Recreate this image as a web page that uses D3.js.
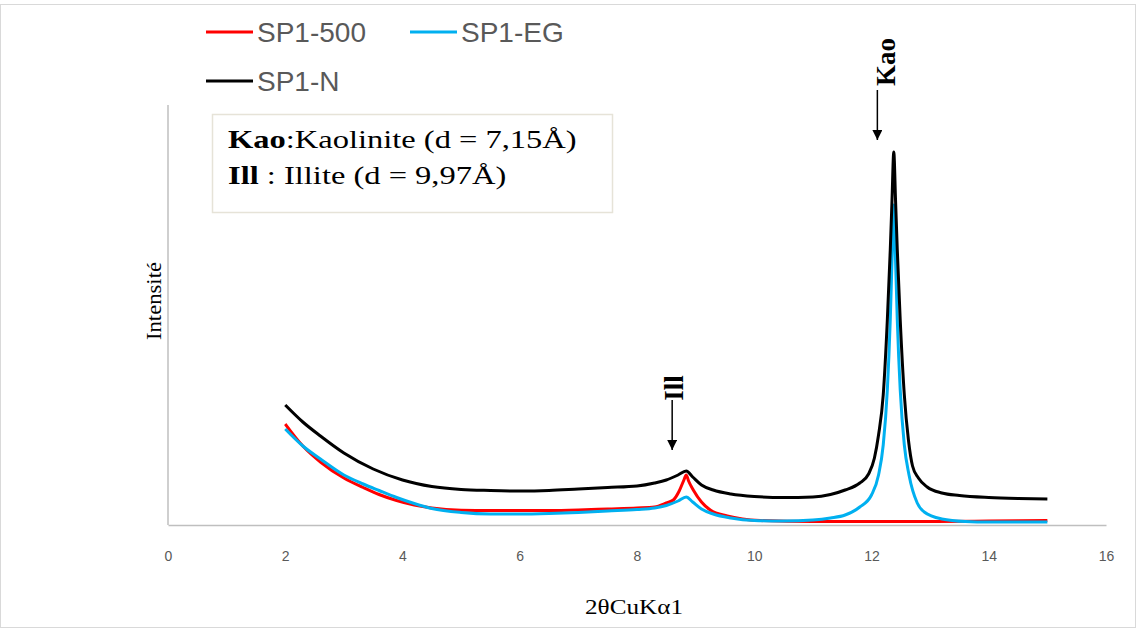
<!DOCTYPE html>
<html>
<head>
<meta charset="utf-8">
<script src="https://cdn.jsdelivr.net/npm/d3@7"></script>
<style>
  body { margin: 0; background: white; }
</style>
</head>
<body>
<div id="container"></div>
<script>
// XRD patterns of SP1 (natural, glycolated, heated to 500 C)

const width = 1138;
const height = 629;

// values, x = 2theta, y = intensity (arbitrary units)
const xTicks = [0, 2, 4, 6, 8, 10, 12, 14, 16];

const sp1_500 = [
  [2.0, 101], [2.3, 79], [2.6, 63], [3.0, 47], [3.33, 37.5], [3.6, 30.5], [3.9, 24.5],
  [4.2, 20], [4.5, 17], [5.0, 14.8], [5.5, 14.5], [6.0, 14.5], [6.5, 14.5], [7.0, 15],
  [7.5, 16], [8.0, 17], [8.3, 18], [8.5, 22], [8.62, 25], [8.72, 34], [8.8, 45],
  [8.84, 50], [8.88, 44], [8.96, 35], [9.1, 23], [9.25, 15], [9.54, 9], [9.8, 6],
  [10.1, 4.5], [11.0, 3.5], [12.0, 3.5], [13.0, 3.5], [14.0, 4], [15.0, 4.5]
];

const sp1_eg = [
  [2.0, 96], [2.3, 79], [2.6, 66], [3.0, 50], [3.33, 41], [3.6, 34.5], [3.9, 27.5],
  [4.2, 21.5], [4.5, 16.5], [5.0, 12.5], [5.5, 11], [6.0, 11], [6.5, 11.5], [7.0, 12.5],
  [7.5, 14], [8.0, 15.5], [8.3, 17], [8.5, 19.5], [8.7, 24], [8.84, 28], [8.95, 23],
  [9.1, 16], [9.3, 11], [9.6, 7], [10.0, 4.5], [10.5, 4], [11.0, 5], [11.3, 7],
  [11.55, 10], [11.8, 18], [12.0, 30], [12.12, 50], [12.2, 80], [12.27, 135],
  [12.32, 205], [12.35, 265], [12.38, 320], [12.41, 265], [12.44, 205], [12.49, 135],
  [12.56, 80], [12.64, 50], [12.78, 22], [12.9, 13], [13.2, 6], [13.6, 3.5],
  [14.0, 3], [15.0, 3]
];

const sp1_n = [
  [2.0, 120], [2.3, 103], [2.6, 89], [3.0, 72], [3.5, 56], [4.0, 45], [4.5, 38.5],
  [5.0, 35.5], [5.5, 34.5], [6.0, 34], [6.5, 34.5], [7.0, 36], [7.5, 37.5], [8.0, 39],
  [8.3, 42], [8.5, 45], [8.7, 50], [8.84, 54], [8.95, 48], [9.1, 40], [9.3, 35],
  [9.6, 31], [10.0, 28.5], [10.5, 27.5], [11.0, 28], [11.3, 30.5], [11.55, 35],
  [11.8, 42], [11.95, 51], [12.05, 67], [12.12, 90], [12.2, 130], [12.27, 205],
  [12.32, 275], [12.35, 325], [12.38, 373], [12.41, 325], [12.44, 275], [12.49, 205],
  [12.56, 130], [12.63, 85], [12.7, 59], [12.8, 47], [12.95, 38], [13.2, 32],
  [13.5, 29.5], [14.0, 27.5], [14.5, 26.5], [15.0, 26]
];

const seriesNames = ["SP1-500", "SP1-EG", "SP1-N"];
const seriesData = [sp1_500, sp1_eg, sp1_n];

const peakLabels = ["Ill", "Kao"];
const peakArrowX = [8.6, 12.1];

const svg = d3.select("#container")
    .append("svg")
    .attr("width", width)
    .attr("height", height)
    .style("background-color", "white");

// chart frame
svg.append("rect")
    .attr("x", 0.5)
    .attr("y", 4.5)
    .attr("width", width - 3)
    .attr("height", height - 6)
    .attr("fill", "none")
    .attr("stroke", "#d9d9d9");

const x = d3.scaleLinear().domain([0, 16]).range([168, 1106]);
const y = d3.scaleLinear().domain([0, 420]).range([525, 105]);

const color = d3.scaleOrdinal()
    .domain(seriesNames)
    .range(["#ff0000", "#00b0f0", "#000000"]);

const serif = "Liberation Serif, Times New Roman, serif";

// axes
const xAxis = svg.append("g")
    .attr("transform", `translate(0, ${y(0)})`)
    .call(d3.axisBottom(x).tickValues(xTicks).tickSize(0).tickPadding(26));
xAxis.select(".domain").attr("stroke", "#bfbfbf").attr("stroke-width", 1.5);
xAxis.selectAll("text")
    .style("font-family", "Liberation Sans, Arial, sans-serif")
    .style("font-size", "14px")
    .attr("fill", "#595959");

svg.append("line")
    .attr("x1", x(0)).attr("x2", x(0))
    .attr("y1", y(0)).attr("y2", y(420))
    .attr("stroke", "#bfbfbf")
    .attr("stroke-width", 1.5);

svg.append("text")
    .attr("x", 634)
    .attr("y", 614)
    .attr("text-anchor", "middle")
    .attr("textLength", 98)
    .attr("lengthAdjust", "spacingAndGlyphs")
    .style("font-family", serif)
    .style("font-size", "22px")
    .text("2θCuKα1");

svg.append("text")
    .attr("transform", "translate(161, 301) rotate(-90)")
    .attr("text-anchor", "middle")
    .attr("textLength", 78)
    .attr("lengthAdjust", "spacingAndGlyphs")
    .style("font-family", serif)
    .style("font-size", "21px")
    .text("Intensité");

// lines
const line = d3.line()
    .x(d => x(d[0]))
    .y(d => y(d[1]))
    .curve(d3.curveMonotoneX);

svg.append("g")
    .selectAll("path")
    .data(seriesData)
    .join("path")
    .attr("d", line)
    .attr("fill", "none")
    .attr("stroke", (d, i) => color(seriesNames[i]))
    .attr("stroke-width", 3)
    .attr("stroke-linejoin", "round");

// legend
const legendPos = [[206, 32], [410, 32], [206, 81]];
seriesNames.forEach((name, i) => {
    const g = svg.append("g")
        .attr("transform", `translate(${legendPos[i][0]}, ${legendPos[i][1]})`);
    g.append("line")
        .attr("x1", 0).attr("x2", 47)
        .attr("stroke", color(name))
        .attr("stroke-width", 3);
    g.append("text")
        .attr("x", 51)
        .attr("y", 10)
        .style("font-family", "Liberation Sans, Arial, sans-serif")
        .style("font-size", "28px")
        .attr("fill", "#595959")
        .text(name);
});

// annotation box
svg.append("rect")
    .attr("x", 212.5)
    .attr("y", 114.5)
    .attr("width", 400)
    .attr("height", 98)
    .attr("fill", "white")
    .attr("stroke", "#e6e3d8")
    .attr("stroke-width", 1.5);

// text in the picture is stretched sideways
const note = svg.append("g")
    .attr("transform", "translate(228, 0) scale(1.25, 1)")
    .style("font-family", serif)
    .style("font-size", "26px");

const t1 = note.append("text").attr("x", 0).attr("y", 148);
t1.append("tspan").style("font-weight", "bold").text("Kao");
t1.append("tspan").text(":Kaolinite (d = 7,15Å)");

const t2 = note.append("text").attr("x", 0).attr("y", 184);
t2.append("tspan").style("font-weight", "bold").text("Ill");
t2.append("tspan").text(" : Illite (d = 9,97Å)");

// peak arrows
svg.append("defs").append("marker")
    .attr("id", "arrow")
    .attr("viewBox", "0 0 10 10")
    .attr("refX", 10)
    .attr("refY", 5)
    .attr("markerWidth", 10)
    .attr("markerHeight", 10)
    .attr("markerUnits", "userSpaceOnUse")
    .attr("orient", "auto")
    .append("path")
    .attr("d", "M0,0 L10,5 L0,10 Z")
    .attr("fill", "black");

const arrowY = [[400, 450], [90, 140]];
const labelY = [388, 62];
const labelDx = [11, 18];

peakLabels.forEach((lab, i) => {
    const ax = x(peakArrowX[i]);
    svg.append("line")
        .attr("x1", ax).attr("x2", ax)
        .attr("y1", arrowY[i][0]).attr("y2", arrowY[i][1])
        .attr("stroke", "black")
        .attr("stroke-width", 1.5)
        .attr("marker-end", "url(#arrow)");
    svg.append("text")
        .attr("transform", `translate(${ax + labelDx[i]}, ${labelY[i]}) rotate(-90)`)
        .attr("text-anchor", "middle")
        .style("font-family", serif)
        .style("font-size", "27px")
        .style("font-weight", "bold")
        .text(lab);
});
</script>
</body>
</html>
